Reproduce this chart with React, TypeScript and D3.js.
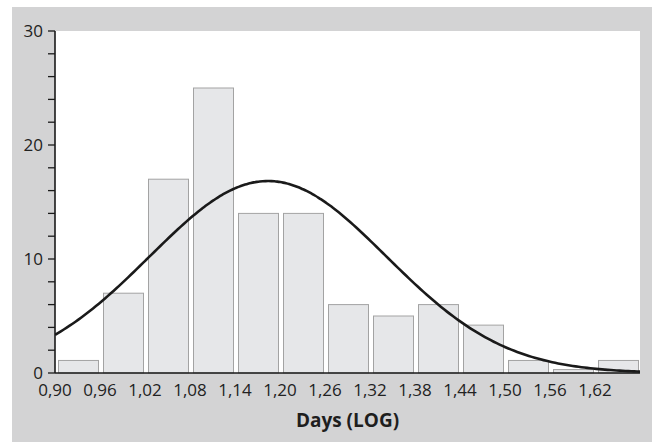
import React from "react";
import * as d3 from "d3";

const binStarts = [0.9, 0.96, 1.02, 1.08, 1.14, 1.2, 1.26, 1.32, 1.38, 1.44, 1.5, 1.56, 1.62];
const binValues = [1.1, 7, 17, 25, 14, 14, 6, 5, 6, 4.2, 1.1, 0.3, 1.1];
const xTickLabels = ["0,90", "0,96", "1,02", "1,08", "1,14", "1,20", "1,26", "1,32", "1,38", "1,44", "1,50", "1,56", "1,62"];
const yMajorTicks = [0, 10, 20, 30];
const binWidth = 0.06;
const fitMean = 1.184;
const fitSd = 0.158;
const fitPeak = 16.84;

const W = 655, H = 442;
const L = 55, R = 640, T = 31, B = 373;

export default function App() {
  const x = d3.scaleLinear().domain([0.9, 1.68]).range([L, R]);
  const y = d3.scaleLinear().domain([0, 30]).range([B, T]);
  const minor = d3.range(0, 31, 2);
  const curvePts = d3.range(0, 201).map(i => 0.9 + (0.78 * i) / 200);
  const line = d3.line<number>()
    .x(d => x(d))
    .y(d => y(fitPeak * Math.exp(-((d - fitMean) ** 2) / (2 * fitSd * fitSd))))
    .curve(d3.curveBasis);
  const font = "'Open Sans', 'DejaVu Sans', sans-serif";
  return (
    <svg width={W} height={H} style={{ position: "absolute", left: 0, top: 0 }}>
      <rect x={12} y={7} width={640} height={H - 7} fill="#d3d3d4" />
      <rect x={L} y={T} width={R - L} height={B - T} fill="#ffffff" />
      <defs>
        <clipPath id="plotclip">
          <rect x={L} y={T} width={R - L} height={B - T} />
        </clipPath>
      </defs>
      {binStarts.map((s, i) => (
        <rect key={i}
          x={x(s) + 3.5}
          y={y(binValues[i])}
          width={x(s + binWidth) - x(s) - 5}
          height={B - y(binValues[i])}
          fill="#e6e7e9" stroke="#a3a3a3" strokeWidth={1} />
      ))}
      <path d={line(curvePts) || ""} fill="none" stroke="#1a1a1a" strokeWidth={2.6} clipPath="url(#plotclip)" />
      <line x1={L} x2={R} y1={B} y2={B} stroke="#1a1a1a" strokeWidth={1.6} />
      <line x1={L} x2={L} y1={T} y2={B} stroke="#1a1a1a" strokeWidth={1.6} />
      {minor.map(v => (
        <line key={v} x1={L - 7} x2={L} y1={y(v)} y2={y(v)} stroke="#1a1a1a" strokeWidth={1.3} />
      ))}
      {yMajorTicks.map(v => (
        <text key={v} x={L - 12} y={y(v)} dy="0.36em" textAnchor="end"
          fontFamily={font} fontSize={17} fill="#222">{v}</text>
      ))}
      {binStarts.map((s, i) => (
        <text key={i} x={x(s)} y={396} textAnchor="middle"
          fontFamily={font} fontSize={17} fill="#222">{xTickLabels[i]}</text>
      ))}
      <text x={(L + R) / 2} y={427} textAnchor="middle" fontFamily={font}
        fontSize={19} fontWeight="bold" fill="#1e1e1e">Days (LOG)</text>
    </svg>
  );
}
